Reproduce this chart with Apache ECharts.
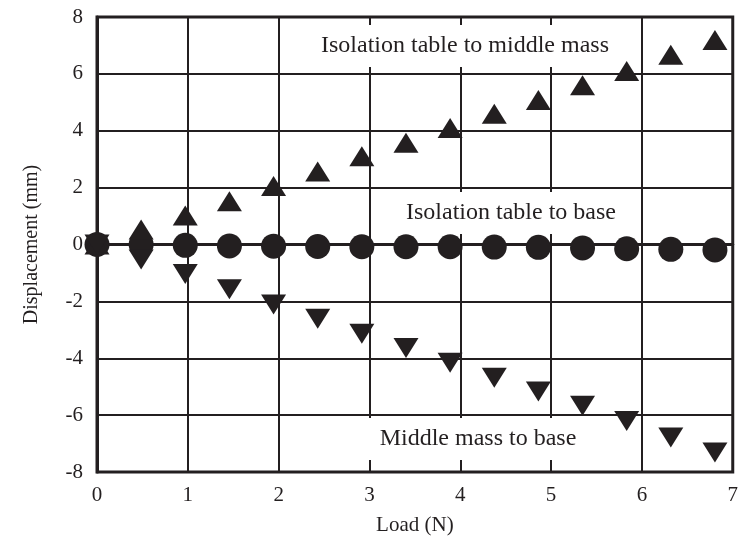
<!DOCTYPE html>
<html>
<head>
<meta charset="utf-8">
<script src="https://cdn.jsdelivr.net/npm/echarts@6/dist/echarts.min.js"></script>
<style>
html,body{margin:0;padding:0;background:#fff;}
#chartDiv{width:741px;height:544px;}
</style>
</head>
<body>
<div id="chartDiv"></div>
<script>
// load steps (N)
var load = [0, 0.486, 0.972, 1.458, 1.944, 2.43, 2.916, 3.402, 3.888, 4.374, 4.86, 5.346, 5.832, 6.318, 6.804];
// displacement (mm)
var tableToMiddle = [0, 0.53, 1.02, 1.52, 2.06, 2.57, 3.1, 3.58, 4.1, 4.6, 5.08, 5.6, 6.1, 6.67, 7.19];
var tableToBase = [0, 0, -0.03, -0.05, -0.06, -0.07, -0.08, -0.08, -0.08, -0.09, -0.1, -0.12, -0.15, -0.17, -0.19];
var middleToBase = [0, -0.53, -1.04, -1.57, -2.11, -2.61, -3.14, -3.64, -4.16, -4.69, -5.17, -5.67, -6.21, -6.79, -7.31];

var fontName = '"Liberation Serif", "Times New Roman", serif';
var ink = '#231f20';
var chart = echarts.init(document.getElementById('chartDiv'));

function pairs(ys){
    var out = [];
    for (var i = 0; i < load.length; i++) {
        out.push([load[i], ys[i]]);
    }
    return out;
}

function note(text, x, y){
    return {
        type: 'text',
        x: x,
        y: y,
        z: 100,
        style: {
            text: text,
            fill: ink,
            fontSize: 24,
            fontFamily: fontName,
            align: 'center',
            verticalAlign: 'middle',
            backgroundColor: '#fff',
            padding: [9, 14]
        }
    };
}

function drawChart(){
    option = {
        animation: false,
        backgroundColor: '#fff',
        grid: {
            left: 97,
            top: 17,
            width: 636,
            height: 455,
            show: true,
            borderColor: ink,
            borderWidth: 3
        },
        xAxis: {
            type: 'value',
            min: 0,
            max: 7,
            interval: 1,
            name: 'Load (N)',
            nameLocation: 'middle',
            nameGap: 43,
            nameTextStyle: {color: ink, fontSize: 21, fontFamily: fontName},
            axisLine: {show: true, lineStyle: {color: ink, width: 3}},
            axisTick: {show: false},
            axisLabel: {color: ink, fontSize: 21, fontFamily: fontName, margin: 13},
            splitLine: {show: true, lineStyle: {color: ink, width: 2}}
        },
        yAxis: {
            type: 'value',
            min: -8,
            max: 8,
            interval: 2,
            name: 'Displacement (mm)',
            nameLocation: 'middle',
            nameGap: 55,
            nameTextStyle: {color: ink, fontSize: 20, fontFamily: fontName},
            axisLine: {show: true, onZero: false, lineStyle: {color: ink, width: 3}},
            axisTick: {show: false},
            axisLabel: {color: ink, fontSize: 21, fontFamily: fontName, margin: 14},
            splitLine: {show: true, lineStyle: {color: ink, width: 2}}
        },
        series: [
            {
                name: 'Isolation table to base',
                type: 'scatter',
                symbol: 'circle',
                symbolSize: 25,
                itemStyle: {color: ink, opacity: 1},
                data: pairs(tableToBase)
            },
            {
                name: 'Isolation table to middle mass',
                type: 'scatter',
                symbol: 'triangle',
                symbolSize: [25, 20],
                itemStyle: {color: ink, opacity: 1},
                data: pairs(tableToMiddle)
            },
            {
                name: 'Middle mass to base',
                type: 'scatter',
                symbol: 'triangle',
                symbolSize: [25, 20],
                symbolRotate: 180,
                itemStyle: {color: ink, opacity: 1},
                data: pairs(middleToBase)
            }
        ],
        graphic: [
            note('Isolation table to middle mass', 465, 46),
            note('Isolation table to base', 511, 213),
            note('Middle mass to base', 478, 439)
        ]
    };
    chart.setOption(option);
}

drawChart();
</script>
</body>
</html>
